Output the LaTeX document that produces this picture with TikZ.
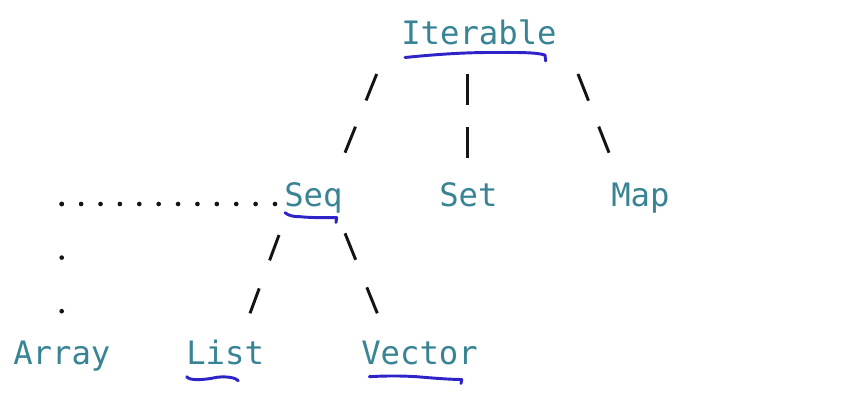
\documentclass[tikz,border=0pt]{standalone}
\usepackage{fontspec}
\setmonofont{DejaVu Sans Mono}
\definecolor{txt}{RGB}{56,132,148}
\definecolor{pen}{RGB}{45,35,200}
\definecolor{ink}{RGB}{20,20,20}
\begin{document}
\begin{tikzpicture}[x=0.75pt,y=-0.75pt,
  lbl/.style={inner sep=0pt,anchor=base west,text=txt,font=\ttfamily\fontsize{24.2}{29}\selectfont},
  conn/.style={draw=ink,line width=2.2pt},
  uline/.style={draw=pen,line width=2.2pt,line cap=round,line join=round},
  dotrow/.style={draw=ink,line width=3.5pt,line cap=round,dash pattern=on 0pt off 14.54pt},
  dotcol/.style={draw=ink,line width=3.5pt,line cap=round,dash pattern=on 0pt off 40.2pt}]
\path[use as bounding box,fill=white] (0,0) rectangle (850,420);

% nodes
\node[lbl] (iter)   at (401,45)  {Iterable};
\node[lbl] (seq)    at (284,207) {Seq};
\node[lbl] (set)    at (439,207) {Set};
\node[lbl] (map)    at (611,207) {Map};
\node[lbl] (array)  at (13,365)  {Array};
\node[lbl] (list)   at (186,365) {List};
\node[lbl] (vector) at (361,365) {Vector};

% connector end points
\coordinate (a1) at (376.7,74);  \coordinate (a2) at (345,152.7);
\coordinate (b1) at (467.7,74);  \coordinate (b2) at (467.7,158);
\coordinate (c1) at (578,74);    \coordinate (c2) at (609,152.7);
\coordinate (d1) at (279,235);   \coordinate (d2) at (250,313.3);
\coordinate (e1) at (345,233.3); \coordinate (e2) at (377.3,313.3);
\coordinate (ds) at (275,204);   \coordinate (dc) at (61.7,204);
\coordinate (de) at (61.7,312);

% connectors
\draw[conn,dash pattern=on 21.4pt off 21.2pt] (a1) -- (a2);
\draw[conn,dash pattern=on 22.9pt off 17pt]   (b1) -- (b2);
\draw[conn,dash pattern=on 21.5pt off 20.9pt] (c1) -- (c2);
\draw[conn,dash pattern=on 20.3pt off 22.4pt] (d1) -- (d2);
\draw[conn,dash pattern=on 21.4pt off 22.3pt] (e1) -- (e2);
\draw[dotrow] (ds) -- ([xshift=-1pt]dc);
\draw[dotcol] (dc) -- (de);

% hand-drawn underlines
\draw[uline] (405,57.5) .. controls (430,55) and (460,52.5) .. (490,52.5)
  .. controls (515,52.5) and (535,52) .. (545,55) -- (545.7,61);
\draw[uline] (285,212.7) .. controls (289,216) and (294,216.7) .. (300,216.7)
  .. controls (312,218) and (328,217.5) .. (336.7,217.7) -- (336,222.5);
\draw[uline] (186.7,376.7) .. controls (189,381) and (205,380) .. (216.7,377.3)
  .. controls (228,376) and (236,378) .. (238.3,380.7);
\draw[uline] (369.3,376.7) .. controls (390,375.5) and (405,376) .. (416.7,376.7)
  .. controls (432,378) and (450,379.5) .. (461.7,379.5) -- (461,383.5);
\end{tikzpicture}
\end{document}
